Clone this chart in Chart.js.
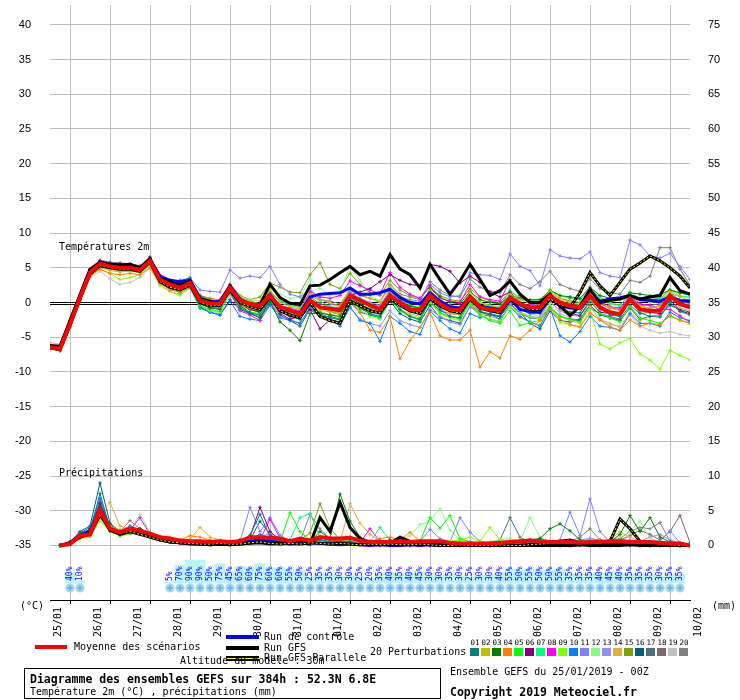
<!DOCTYPE html>
<html lang="fr">
<head>
<meta charset="UTF-8">
<title>Diagramme des ensembles GEFS</title>
<script src="https://cdn.jsdelivr.net/npm/chart.js"></script>
<style>
  body { margin: 0; background: #fff; }
  #wrap { position: relative; width: 740px; height: 700px; font-family: 'DejaVu Sans Mono', monospace; color: #000; }
  #wrap canvas { position: absolute; left: 0; top: 0; }
  .t { position: absolute; white-space: nowrap; font-size: 10px; line-height: 10px; }
  .b { font-weight: bold; font-size: 11.5px; line-height: 12px; }
  .sw { position: absolute; }
  #box { position: absolute; left: 24px; top: 668px; width: 415px; height: 29px; border: 1px solid #000; }
</style>
</head>
<body>
<div id="wrap">
  <canvas id="c" width="740" height="700"></canvas>
  <div class="t" style="left:59px;top:242px">Températures 2m</div>
  <div class="t" style="left:59px;top:468px">Précipitations</div>
  <div class="t" style="left:20px;top:601px">(°C)</div>
  <div class="t" style="left:712px;top:601px">(mm)</div>

  <div class="sw" style="left:35px;top:645px;width:32px;height:4px;background:#ff0000"></div>
  <div class="t" style="left:74px;top:642px">Moyenne des scénarios</div>
  <div class="sw" style="left:226px;top:635px;width:33px;height:4px;background:#0000ff"></div>
  <div class="t" style="left:264px;top:632px">Run de contrôle</div>
  <div class="sw" style="left:226px;top:646px;width:33px;height:4px;background:#000"></div>
  <div class="t" style="left:264px;top:643px">Run GFS</div>
  <div class="sw" style="left:226px;top:656px;width:33px;height:1px;border-top:2px solid #000;border-bottom:2px solid #000;background:#ffff00"></div>
  <div class="t" style="left:264px;top:653px">Run GFS Parallele</div>
  <div class="t" style="left:180px;top:656px">Altitude du modèle : 30m</div>
  <div class="t" style="left:370px;top:647px">20 Perturbations</div>
  <div id="pertLegend"></div>

  <div id="box"></div>
  <div class="t b" style="left:30px;top:673px">Diagramme des ensembles GEFS sur 384h : 52.3N 6.8E</div>
  <div class="t" style="left:30px;top:687px">Température 2m (°C) , précipitations (mm)</div>
  <div class="t" style="left:450px;top:667px">Ensemble GEFS du 25/01/2019 - 00Z</div>
  <div class="t b" style="left:450px;top:686px">Copyright 2019 Meteociel.fr</div>
</div>

<script>
// Time axis: 6-hour steps from 25/01 00Z, 65 values (0..384h)
const stepHours = 6;
const dateLabels = ['25/01','26/01','27/01','28/01','29/01','30/01','31/01','01/02','02/02',
                    '03/02','04/02','05/02','06/02','07/02','08/02','09/02','10/02'];
const tempTicks = [-35,-30,-25,-20,-15,-10,-5,0,5,10,15,20,25,30,35,40];
const precipTicks = [0,5,10,15,20,25,30,35,40,45,50,55,60,65,70,75];

const pertNames = ['01','02','03','04','05','06','07','08','09','10','11','12','13','14','15','16','17','18','19','20'];
const pertColors = ['#008080','#c0c000','#008000','#ff8000','#00ff00','#800080','#00ff80','#ff00ff','#80ff00','#0080ff',
                    '#8080ff','#80ff80','#8f8fff','#e0b040','#80a000','#006080','#507078','#806870','#c0c0c0','#808080'];

// Temperature 2m (°C), one row = one day (00Z, 06Z, 12Z, 18Z)
const tMean = [-6.4,-6.7,-3.1,0.7, 4.3,5.6,5.2,5.0, 5.0,4.7,6.0,3.3, 2.6,2.1,2.8,0.3,
  -0.1,-0.2,2.1,0.3, -0.2,-0.5,1.0,-0.7, -1.1,-1.7,0.3,-0.7, -0.9,-1.1,1.0,0.3,
  -0.4,-1.0,1.0,0.0, -1.0,-1.1,1.0,-0.2, -1.0,-1.1,0.8,-0.7, -1.0,-1.2,0.7,-0.2,
  -0.7,-0.7,1.0,0.0, -0.5,-0.7,1.0,-0.7, -1.4,-1.7,0.5,-1.0, -1.2,-1.2,1.0,-0.2, -0.7];
const tCtrl = [-6.3,-6.5,-2.8,1.0, 4.6,5.8,5.4,5.2, 5.3,4.9,6.2,3.8, 3.2,3.0,3.2,0.5,
  0.0,0.2,2.4,0.5, -0.3,-0.6,1.2,-0.8, -1.2,-1.5,0.8,1.2, 1.3,1.4,2.1,1.2,
  1.2,1.4,1.9,0.7, 0.0,-0.2,1.4,0.2, -0.6,-0.8,0.9,-0.5, -0.8,-1.0,0.5,-1.0,
  -1.3,-1.4,0.6,-0.5, -0.8,-0.9,0.8,0.2, 0.5,0.7,1.0,0.4, 0.3,0.2,0.8,0.3, 0.2];
const tGfs = [-6.2,-6.3,-2.6,1.1, 4.8,5.8,5.5,5.4, 5.5,5.0,6.3,3.5, 3.0,2.5,3.1,0.5,
  0.2,-0.1,2.3,0.2, -0.5,-0.3,2.6,0.7, -0.1,-0.3,2.4,2.5, 3.3,4.3,5.2,4.0,
  4.5,3.8,6.9,4.8, 4.0,2.1,5.5,3.3, 1.2,3.1,5.5,3.3, 1.0,1.7,3.1,1.2,
  0.0,0.0,1.2,-0.5, -1.9,-0.5,1.9,0.0, 0.3,0.5,1.0,0.5, 0.8,1.0,3.6,1.7, 1.2];
const tPar = [-6.5,-6.8,-3.3,0.5, 4.1,5.3,5.0,4.8, 4.8,4.5,5.8,3.0, 2.2,1.8,2.5,0.0,
  -0.5,-0.4,1.8,0.0, -0.6,-1.0,0.8,-1.2, -1.8,-2.2,0.0,-2.0, -2.6,-3.0,0.2,-0.5,
  -1.2,-1.5,0.5,-0.4, -1.2,-1.6,0.6,-0.5, -1.2,-1.5,0.5,-0.8, -1.2,-1.5,0.4,-0.3,
  -1.0,-1.0,0.5,-0.3, -0.7,1.4,4.3,2.4, 1.0,2.9,4.8,5.7, 6.7,6.0,5.0,3.8, 2.1];

const t01 = [-6.3,-6.6,-2.9,0.9, 4.5,5.9,5.6,5.4, 5.3,5.0,6.3,3.8, 3.0,3.2,3.5,1.0,
  0.2,-0.5,1.6,-0.8, -1.5,-1.8,0.5,-1.3, -2.0,-2.4,-0.4,-1.6, -2.2,-2.5,0.5,-0.8,
  -1.6,-2.0,0.6,-1.0, -2.0,-2.4,0.5,-1.0, -2.0,-2.2,0.4,-1.2, -1.8,-2.0,0.3,-1.0,
  -1.6,-1.6,1.0,-0.6, -1.4,-1.5,0.8,-0.8, -1.8,-2.0,0.2,-1.5, -2.0,-2.1,0.0,-1.3, -1.8];
const t02 = [-6.5,-6.8,-3.4,0.4, 4.0,5.2,4.8,4.5, 4.6,4.4,5.5,3.0, 2.5,2.0,2.9,0.6,
  0.3,0.0,2.5,0.8, 0.2,-0.2,1.8,0.0, -0.6,-1.0,1.2,0.4, 0.0,-0.5,2.0,1.2,
  0.6,0.0,2.4,1.0, 0.2,-0.3,1.8,0.4, -0.4,-0.8,1.5,0.0, -0.5,-0.8,1.2,0.4,
  0.0,0.1,1.8,0.6, 0.0,-0.3,1.5,0.0, -0.8,-1.2,1.0,-0.5, -0.8,-0.6,1.6,0.8, 0.2];
const t03 = [-6.2,-6.5,-2.7,1.0, 4.6,5.9,5.5,5.3, 5.2,4.9,6.1,3.4, 2.9,2.6,2.6,-0.2,
  -0.8,-1.0,2.6,-0.4, -1.5,-2.2,0.2,-2.8, -4.0,-5.5,-1.6,-1.5, -1.8,-2.0,0.8,-0.2,
  -1.0,-1.5,1.2,0.2, -0.5,-0.8,2.0,0.8, 0.0,-0.2,1.6,0.4, 0.0,-0.2,1.0,0.6,
  0.4,0.4,1.8,1.0, 0.8,0.6,2.2,1.0, 0.6,0.5,1.4,1.2, 1.0,1.1,1.8,1.4, 1.2];
const t04 = [-6.6,-7.0,-3.6,0.2, 3.8,4.8,4.2,4.0, 4.2,4.0,5.0,2.8, 1.8,1.5,2.2,0.0,
  -0.4,-0.6,1.8,-0.3, -0.8,-1.0,0.6,-1.0, -1.5,-2.0,0.0,-1.5, -1.8,-1.4,0.4,-1.4,
  -4.0,-4.3,-2.1,-8.1, -5.5,-3.6,-1.4,-4.8, -5.4,-5.4,-4.0,-9.3, -7.1,-8.0,-4.8,-5.3,
  -4.0,-2.6,-1.0,-2.4, -3.2,-3.5,-1.5,-2.5, -3.5,-4.0,-2.5,-3.4, -3.0,-3.2,-1.8,-2.6, -3.0];
const t05 = [-6.4,-6.6,-3.0,0.8, 4.4,5.4,4.9,4.6, 4.8,4.6,5.7,3.0, 2.4,1.4,2.2,-0.5,
  -1.0,-1.3,1.5,-0.6, -1.4,-1.6,0.3,-1.3, -1.8,-2.4,0.5,-0.6, -1.2,-1.8,0.6,-0.8,
  -1.6,-2.2,0.4,-1.2, -2.0,-2.6,0.2,-1.5, -2.0,-2.4,0.0,-1.8, -2.6,-3.0,-1.2,-3.3,
  -2.9,-2.6,-0.8,-2.0, -2.4,-2.8,0.4,-1.6, -2.2,-2.8,-0.6,-2.2, -2.6,-3.0,-2.0,-2.5, -3.0];
const t06 = [-6.3,-6.6,-2.9,0.9, 4.7,6.0,5.7,5.6, 5.4,5.2,6.4,3.6, 3.1,2.8,3.0,0.8,
  0.2,-0.4,2.0,-0.2, -1.0,-1.4,0.6,-1.6, -2.4,-2.0,-1.0,-3.8, -2.5,-2.8,1.0,1.5,
  2.0,3.0,4.0,3.2, 2.6,2.4,5.5,5.2, 4.5,2.8,3.8,2.9, 1.5,0.8,1.5,0.0,
  -0.6,-0.8,1.2,-0.8, -1.5,-1.9,0.2,-1.4, -1.6,-1.8,0.6,-1.0, -1.4,-1.6,0.4,-1.2, -1.6];
const t07 = [-6.4,-6.8,-3.2,0.6, 4.2,5.5,5.0,4.9, 5.0,4.8,5.9,3.0, 2.2,1.8,2.5,0.0,
  -0.5,-0.5,1.5,0.0, -0.5,-0.6,1.4,0.2, -0.4,-0.8,1.0,0.2, -0.6,-1.0,0.8,0.0,
  -0.6,-1.0,1.2,0.4, -0.4,-0.8,1.4,0.2, -0.8,-1.0,1.0,0.0, -0.4,-0.6,1.8,0.6,
  0.2,0.4,1.6,1.0, 0.6,0.4,1.9,0.8, 0.0,-0.4,1.2,0.5, 0.4,0.6,1.2,0.9, 0.8];
const t08 = [-6.6,-6.9,-3.3,0.5, 4.2,5.4,5.0,4.8, 5.0,4.6,5.8,3.1, 2.4,2.0,2.6,0.2,
  -0.2,-0.8,1.4,-1.2, -1.8,-2.6,0.8,-0.4, -0.8,-1.2,1.6,0.8, 0.6,1.0,3.1,2.4,
  1.8,1.2,4.3,2.2, 1.2,0.6,2.4,0.6, 0.2,0.0,2.6,0.8, 0.4,0.2,3.3,1.0,
  -0.2,-0.5,1.2,0.0, -0.4,-0.6,1.8,0.2, -0.6,-0.8,1.0,-0.2, -0.4,-1.0,-1.0,-1.9, -2.9];
const t09 = [-6.5,-6.9,-3.4,0.3, 3.9,4.8,4.2,3.3, 3.6,4.0,5.4,2.6, 1.6,1.0,2.2,-0.4,
  -1.2,-1.4,1.6,-0.5, -1.0,-1.5,0.8,-1.0, -1.6,-2.0,0.4,-1.2, -1.8,-2.2,0.2,-1.0,
  -2.0,-2.4,0.6,-1.0, -1.8,-2.2,0.0,-1.6, -2.2,-2.6,-0.2,-1.8, -2.4,-2.6,-0.6,-1.6,
  -2.0,-2.4,-0.2,-2.9, -3.2,-3.6,-1.0,-6.0, -6.7,-5.8,-5.2,-7.4, -8.3,-9.6,-6.9,-7.6, -8.3];
const t10 = [-6.3,-6.6,-3.0,0.8, 4.4,5.7,5.3,5.1, 5.1,4.8,6.0,3.2, 2.6,2.3,2.4,-0.8,
  -1.4,-1.8,0.2,-2.0, -2.4,-2.6,-0.4,-2.2, -2.6,-3.0,-0.8,-1.8, -2.4,-3.4,-0.6,-2.6,
  -3.0,-5.6,-2.0,-3.0, -4.2,-4.6,-1.2,-2.6, -3.8,-4.4,-1.6,-2.2, -1.7,-2.4,-0.6,-2.0,
  -2.8,-3.4,-0.8,-4.8, -5.7,-4.2,-2.0,-3.4, -3.6,-4.0,-1.6,-3.0, -3.0,-3.4,-1.4,-2.2, -2.6];
const t11 = [-6.2,-6.5,-2.8,1.0, 4.7,6.0,5.6,5.5, 5.5,5.2,6.4,3.7, 3.2,3.0,3.6,1.8,
  1.6,1.5,4.7,3.5, 3.8,3.6,5.2,2.6, 1.2,0.8,2.0,0.5, -0.2,-0.6,1.6,0.6,
  0.0,-0.4,1.8,0.8, 0.4,0.2,2.6,1.4, 0.8,1.0,4.3,4.0, 3.9,3.3,7.0,5.2,
  4.6,2.4,7.6,6.7, 6.4,6.3,7.3,4.3, 3.8,3.6,9.0,8.3, 6.7,6.4,7.1,5.2, 3.3];
const t12 = [-6.4,-6.7,-3.1,0.7, 4.3,5.5,5.1,5.0, 5.1,4.8,6.0,3.4, 2.8,2.4,3.0,0.6,
  0.0,0.2,2.6,0.8, 0.4,0.2,2.4,1.2, 0.6,0.8,3.4,2.0, 1.2,1.6,5.2,3.2,
  1.0,0.2,2.0,0.6, -0.4,-0.6,1.6,0.4, -0.6,-0.8,1.2,0.0, -0.6,-0.8,1.5,0.6,
  -0.2,-0.4,1.6,0.4, 0.0,-0.2,1.4,0.2, -0.2,-0.6,1.6,0.6, 0.0,0.2,1.8,1.0, 0.6];
const t13 = [-6.5,-6.8,-3.2,0.6, 4.2,5.5,5.0,4.9, 5.0,4.7,5.9,3.2, 2.5,2.0,2.5,-0.2,
  -0.6,-0.8,1.4,-0.6, -1.0,-1.4,0.4,-2.0, -2.4,-3.0,-0.8,-2.0, -2.6,-3.2,-0.8,-2.4,
  -3.0,-3.4,-1.2,-2.6, -3.2,-3.6,-1.0,-2.0, -2.8,-3.2,-0.6,-1.8, -2.4,-2.8,-0.2,-1.4,
  -2.0,-2.2,0.2,-1.2, -1.8,-2.0,0.4,-1.0, -1.6,-2.0,0.8,-0.6, -0.8,-0.4,1.6,0.2, -0.2];
const t14 = [-6.6,-7.0,-3.5,0.3, 3.9,5.0,4.6,4.4, 4.5,4.3,5.4,2.9, 2.0,1.6,2.4,0.0,
  -0.4,-0.6,1.8,0.0, -0.6,-1.0,0.9,-1.2, -1.6,-2.0,0.2,-1.0, -1.4,-1.6,0.9,-0.4,
  -0.8,-1.4,0.8,-0.6, -1.4,-1.6,0.6,-1.0, -1.6,-1.8,0.2,-1.6, -2.0,-2.4,-0.6,-2.2,
  -2.8,-3.2,-0.8,-2.0, -2.6,-3.0,-0.6,-2.4, -3.0,-3.6,-1.4,-2.6, -2.0,-1.8,0.2,-0.8, -1.2];
const t15 = [-6.3,-6.6,-2.9,0.9, 4.6,5.8,5.4,5.2, 5.3,5.0,6.2,3.6, 2.9,2.6,3.2,1.0,
  0.6,0.4,2.6,1.0, 0.4,0.8,2.8,2.2, 1.5,1.4,4.0,5.7, 2.6,2.0,4.2,2.6,
  1.4,1.0,3.2,1.8, 1.0,0.6,2.2,1.0, 0.4,0.2,2.0,0.8, 0.2,0.0,1.6,0.6,
  0.0,-0.2,1.4,0.6, 0.2,0.0,1.6,0.4, -0.2,-0.4,1.2,0.6, 0.4,0.6,1.8,1.4, 1.0];
const t16 = [-6.4,-6.7,-3.0,0.8, 4.3,5.6,5.2,5.0, 5.1,4.8,6.1,3.3, 2.6,2.2,2.6,-0.6,
  -1.4,-1.8,0.4,-1.0, -1.6,-2.2,-0.2,-1.8, -2.6,-3.4,-1.0,-2.0, -2.0,-2.4,0.0,-1.4,
  -1.8,-2.2,0.2,-1.6, -2.4,-2.8,-0.4,-2.2, -2.6,-3.0,-0.6,-1.4, -1.6,-2.0,-0.2,-1.4,
  -3.0,-3.8,-1.2,-2.6, -2.8,-2.4,-0.4,-1.8, -2.2,-2.6,-0.8,-2.4, -2.0,-1.8,-0.4,-1.0, -1.4];
const t17 = [-6.5,-6.7,-3.1,0.7, 4.4,5.7,5.3,5.1, 5.0,4.7,6.0,3.3, 2.5,2.0,2.6,0.0,
  -0.6,-1.0,1.4,-0.6, -1.0,-1.2,0.8,-0.8, -1.4,-1.6,0.6,-0.6, -1.0,-1.4,0.6,-0.4,
  -0.8,-1.2,0.6,-0.6, -1.2,-1.4,0.2,-1.2, -1.6,-1.8,0.0,-1.4, -1.8,-2.0,-0.2,-1.6,
  -2.2,-2.4,-0.6,-2.0, -2.4,-2.6,-0.8,-1.6, -2.0,-2.4,-0.4,-1.6, -1.4,-1.2,0.4,-0.4, -0.8];
const t18 = [-6.3,-6.5,-2.8,1.0, 4.6,5.9,5.5,5.3, 5.2,4.9,6.2,3.5, 2.8,2.4,2.9,0.4,
  0.0,-0.2,2.0,0.0, -0.4,-0.8,1.2,-0.4, -1.0,-1.4,0.8,-0.2, -0.6,-0.8,1.4,0.4,
  -0.2,-0.6,1.6,0.2, -0.6,-0.8,1.2,0.0, -0.8,-1.0,1.0,-0.4, -1.0,-1.2,1.0,0.0,
  -0.6,-0.4,1.2,0.2, -0.2,-0.4,1.0,-0.2, -0.8,-1.0,0.6,-0.4, -0.4,-0.2,1.0,0.0, -0.4];
const t19 = [-5.8,-6.0,-2.6,0.6, 3.6,4.5,3.4,2.6, 2.9,3.6,5.0,2.4, 1.6,1.2,2.0,-0.8,
  -1.4,-1.6,1.0,-0.8, -1.6,-2.0,0.4,-1.0, -1.4,-1.8,0.6,-0.8, -1.2,-1.6,0.8,-0.6,
  -1.4,-1.8,0.4,-1.0, -1.6,-2.0,0.4,-0.8, -1.2,-1.6,0.6,-0.6, -1.0,-1.4,0.8,-0.8,
  -1.6,-2.0,0.2,-1.6, -2.2,-2.6,-0.4,-2.6, -3.2,-3.4,-1.8,-3.4, -4.0,-4.4,-4.2,-4.6, -4.8];
const t20 = [-6.2,-6.4,-2.7,1.1, 4.8,6.1,5.8,5.7, 5.6,5.3,6.6,3.8, 3.2,2.9,3.3,1.0,
  0.4,0.2,2.4,0.6, 0.2,-0.2,1.6,0.2, -0.2,-0.6,1.4,0.4, 0.2,-0.2,1.8,1.0,
  0.6,0.2,2.6,1.2, 0.8,0.4,3.0,1.8, 1.0,0.8,3.4,2.2, 1.6,1.4,4.0,2.6,
  2.0,3.0,4.5,2.6, 2.0,1.6,3.4,2.0, 1.4,1.2,3.2,2.9, 3.8,7.9,7.9,4.8, 2.5];

// Precipitation (mm per 6h)
const pMean = [null,0,0.2,1.4, 1.6,5.0,2.4,1.9, 2.4,2.1,1.7,1.2, 1.0,0.7,0.6,0.6,
  0.5,0.6,0.5,0.6, 1.2,1.2,1.1,1.0, 0.6,1.0,0.7,1.2, 1.0,1.0,1.1,0.7,
  0.5,0.5,0.5,0.6, 0.5,0.6,0.6,0.6, 0.4,0.3,0.3,0.3, 0.3,0.4,0.5,0.6,
  0.7,0.6,0.5,0.5, 0.5,0.4,0.5,0.5, 0.6,0.6,0.5,0.5, 0.5,0.4,0.3,0.3, 0];
const pCtrl = [null,0,0.4,1.5, 2.0,5.0,2.4,1.8, 2.2,2.0,1.4,1.0, 0.6,0.4,0.3,0.2,
  0.1,0.2,0.1,0.3, 0.6,0.8,0.6,0.4, 0.2,0.3,0.4,0.3, 0.2,0.1,0.2,0.1,
  0,0.1,0,0, 0.1,0,0.1,0, 0,0,0.1,0, 0,0.1,0,0,
  0.1,0.2,0.1,0, 0,0.1,0.2,0.1, 0.2,0.3,0.2,0.4, 0.2,0.1,0,0, 0];
const pGfs = [null,0,0.3,1.2, 1.8,4.6,2.2,1.6, 2.0,1.8,1.2,0.8, 0.5,0.4,0.2,0.2,
  0.1,0.2,0.1,0.2, 0.3,0.4,0.2,0.3, 0.3,0.4,0.2,4.0, 2.0,6.2,2.6,1.0,
  0.4,0.6,0.3,1.2, 0.6,0.3,0.2,0.1, 0,0,0.1,0, 0,0,0,0,
  0,0,0,0, 0,0.1,0,0, 0,0,0.1,0, 0,0,0,0, 0];
const pPar = [null,0,0.3,1.3, 1.6,4.4,2.4,1.8, 2.0,1.6,1.2,0.8, 0.5,0.4,0.3,0.2,
  0.2,0.3,0.2,0.2, 0.4,0.5,0.3,0.2, 0.3,0.2,0.4,0.3, 0.2,0.3,0.2,0.1,
  0.2,0.1,0.2,0.1, 0.1,0.2,0.1,0, 0,0.1,0,0, 0,0.1,0,0,
  0.1,0.2,0.3,0.6, 0.8,0.4,0.3,0.5, 0.6,3.8,2.4,0.6, 0.4,0.2,0.1,0, 0];

const p01 = [null,0,0.4,1.6, 2.0,7.5,2.4,1.6, 2.2,2.0,1.2,0.8, 0.6,0.4,0.3,0.2,
  0.2,0.3,0.2,0.5, 1.5,4.5,1.2,0.4, 0.2,0.6,0.3,0.8, 0.5,0.4,0.6,0.2,
  0.2,0.3,0.1,0.2, 0.4,0.6,0.3,0.2, 0.1,0,0.2,0.1, 0,0.2,0.3,0.4,
  0.5,0.2,0.1,0, 0,0.1,0.2,0, 0.2,0.1,0.3,0.1, 0,0.1,0,0, 0];
const p02 = [null,0,0.2,1.2, 1.4,4.0,2.8,2.2, 2.5,1.6,1.4,1.0, 0.8,0.5,0.4,0.3,
  0.2,0.4,0.2,0.3, 0.5,0.8,0.6,0.4, 0.3,0.2,0.4,0.6, 0.4,0.3,0.5,0.2,
  0.1,0.2,0.1,0, 0,0.1,0.2,0.1, 0,0.1,0,0, 0.1,0,0.2,0.1,
  0.3,0.2,0.1,0.1, 0,0.2,0.1,0, 0.2,0.3,0.2,0.5, 0.3,0.2,0.1,0, 0];
const p03 = [null,0,0.5,1.8, 2.2,5.6,3.0,1.8, 2.6,2.4,1.6,1.0, 0.6,0.5,0.3,0.4,
  0.2,0.5,0.3,0.4, 0.6,1.0,0.8,0.6, 0.4,0.8,0.5,2.0, 1.0,7.4,3.5,1.2,
  0.6,0.4,0.8,0.5, 0.3,0.2,0.4,0.3, 0.2,0.1,0.2,0.1, 0.1,0.2,0.4,0.6,
  0.8,1.0,2.4,3.1, 2.1,0.8,0.4,0.2, 0.5,1.6,4.3,2.0, 4.0,1.2,0.5,0.2, 0];
const p04 = [null,0,0.2,1.0, 1.5,4.2,2.2,2.0, 2.4,2.2,1.8,1.2, 1.0,0.8,1.4,1.2,
  0.8,0.4,0.3,0.2, 0.4,0.6,0.3,0.2, 0.3,0.4,0.6,0.5, 0.6,0.8,0.5,0.3,
  0.6,1.0,1.2,0.8, 1.9,0.6,0.3,0.2, 0.1,0.2,0.1,0, 0,0.1,0.2,0.1,
  0.2,0.1,0,0.1, 0.2,0.3,0.5,0.8, 0.4,0.3,0.5,0.6, 0.2,0.1,0.1,0, 0];
const p05 = [null,0,0.3,1.5, 1.8,5.0,2.6,1.4, 1.8,1.6,1.2,0.8, 0.5,0.4,0.3,0.2,
  0.3,0.2,0.1,0.2, 0.4,0.6,0.8,0.5, 4.7,2.0,0.8,0.5, 0.4,0.3,0.5,0.2,
  0.2,0.1,0.3,0.2, 0.4,0.6,4.0,2.5, 4.3,1.0,0.5,0.2, 0.1,0,0.2,0.1,
  0.2,0.1,0.3,0.2, 0.1,0.2,0.1,0, 0,0.1,0.2,0.1, 0,0.1,0,0, 0];
const p06 = [null,0,0.4,1.4, 2.4,6.0,2.8,2.2, 2.6,2.4,1.8,1.2, 0.8,0.6,0.5,0.4,
  0.3,0.4,0.5,0.8, 1.2,5.5,2.0,0.8, 0.4,0.3,0.5,0.4, 0.6,0.5,0.4,0.3,
  0.3,0.2,0.4,0.2, 0.1,0.2,0.1,0, 0,0.1,0.2,0, 0.1,0.2,0.1,0.2,
  0.3,0.2,0.1,0, 0,0.1,0.2,0.1, 0.1,0.2,0.1,0, 0,0,0.1,0, 0];
const p07 = [null,0,0.3,1.3, 1.6,4.5,2.0,1.6, 1.8,1.8,1.2,1.0, 0.6,0.5,0.6,0.4,
  0.4,0.3,0.5,0.6, 0.8,1.0,0.8,0.7, 0.8,4.0,4.6,1.2, 0.6,0.8,0.6,0.4,
  0.5,2.6,0.8,0.5, 0.3,0.4,0.6,0.4, 0.2,0.3,0.1,0.2, 0.1,0.2,0.3,0.2,
  0.5,0.4,0.3,0.2, 0.1,0.2,0.3,0.1, 0.2,0.1,0.3,0.2, 0.1,0,0.1,0, 0];
const p08 = [null,0,0.3,1.4, 1.8,4.8,2.4,1.8, 2.2,4.0,1.6,1.0, 0.6,0.5,0.4,0.3,
  0.2,0.3,0.4,0.3, 0.6,0.8,3.8,1.0, 0.5,0.6,0.4,0.6, 0.4,0.6,0.5,0.4,
  2.4,0.6,0.3,0.2, 0.3,0.4,0.6,0.5, 0.2,0.1,0.2,0.1, 0,0.1,0.2,0.1,
  0.2,0.3,0.1,0.1, 0.1,0,0.2,0.1, 0,0.2,0.1,0.2, 0.1,0,0,0, 0];
const p09 = [null,0,0.2,1.0, 1.2,3.5,2.0,1.4, 1.6,1.8,1.4,1.0, 0.8,0.6,0.4,0.3,
  0.2,0.3,0.2,0.4, 0.5,0.6,0.4,0.3, 0.3,0.4,0.6,0.4, 0.4,0.3,0.5,0.6,
  0.4,0.2,0.3,0.2, 0.3,0.2,0.3,0.4, 0.6,0.8,1.2,0.6, 2.6,0.8,0.4,0.2,
  0.1,0.2,0.1,0, 0.1,0.2,0.3,0.1, 0.2,0.1,0.3,0.2, 0.3,0.2,0.1,0, 0];
const p10 = [null,0,0.5,1.8, 2.6,6.8,2.6,2.0, 2.8,2.2,1.6,1.2, 1.0,0.6,0.4,0.3,
  0.2,0.3,0.2,0.2, 0.8,1.6,1.0,0.8, 0.4,0.5,0.6,0.8, 0.6,0.4,0.3,0.2,
  0.2,0.1,0.2,0.1, 0,0.1,0,0.1, 0.2,0.1,0,0, 0,0,0.1,0,
  0.1,0.2,0.1,0, 0.2,0.1,0,0.1, 0,0.1,0,0, 0,0,0.1,0, 0];
const p11 = [null,0,0.4,1.6, 2.2,5.8,2.6,1.8, 2.4,2.0,1.4,1.0, 0.6,0.4,0.3,0.2,
  0.3,0.2,0.4,0.6, 5.5,2.0,4.0,1.5, 0.6,0.5,0.4,0.6, 0.3,0.2,0.4,0.3,
  0.2,0.3,0.2,0.1, 0.3,0.6,2.3,1.0, 0.5,4.0,1.9,0.6, 0.3,0.2,0.1,0.2,
  0.5,1.0,0.6,0.8, 4.8,1.4,6.7,2.0, 0.5,0.3,0.4,0.2, 0.3,0.6,2.1,0.4, 0];
const p12 = [null,0,0.3,1.2, 1.5,4.2,2.2,1.6, 2.0,4.5,1.8,1.2, 0.8,0.6,0.4,0.3,
  0.4,0.3,0.5,0.4, 0.5,0.6,0.8,0.6, 0.4,0.5,0.3,0.4, 0.5,0.4,0.3,0.5,
  0.4,0.3,0.6,0.8, 1.4,3.0,3.5,5.3, 2.2,0.8,0.5,0.4, 0.6,0.8,1.0,0.6,
  4.0,1.2,0.5,0.3, 0.3,0.4,0.2,0.3, 0.6,1.2,2.0,3.5, 1.0,0.5,0.3,0.1, 0];
const p13 = [null,0,0.3,1.3, 1.6,5.2,2.4,1.8, 2.0,1.8,1.4,1.0, 0.6,0.5,0.4,0.3,
  0.4,0.3,0.6,0.8, 1.0,1.2,1.8,1.0, 0.6,0.5,0.8,0.6, 0.5,0.4,0.6,0.4,
  0.3,0.6,0.4,0.3, 0.2,0.3,0.5,0.4, 0.3,0.2,0.3,0.2, 0.1,0.2,0.3,0.2,
  0.4,0.6,0.5,0.4, 0.6,0.8,1.0,0.5, 0.4,0.3,0.8,0.6, 1.2,1.6,0.8,0.3, 0];
const p14 = [null,0,0.2,1.0, 1.6,4.6,6.2,2.8, 2.4,1.6,1.4,1.2, 1.0,0.8,0.9,2.6,
  1.2,0.8,0.5,0.6, 0.8,0.6,0.5,0.4, 0.6,0.5,0.4,0.3, 0.5,0.4,6.0,3.2,
  1.6,0.6,0.4,0.3, 0.2,0.3,0.2,0.1, 0.1,0.2,0.1,0, 0,0.1,0,0.1,
  0.2,0.3,0.2,0.1, 0.3,0.4,0.2,0.1, 0.8,2.0,1.2,0.6, 0.3,0.2,0.1,0, 0];
const p15 = [null,0,0.4,1.5, 2.0,5.4,2.6,2.0, 2.2,2.0,1.6,1.2, 0.8,0.6,0.5,0.4,
  0.3,0.4,0.3,0.5, 0.6,0.8,0.6,0.5, 0.6,0.8,1.8,6.0, 2.5,0.8,0.6,0.4,
  0.2,0.3,0.2,0.1, 0.2,0.1,0.2,0.1, 0,0.1,0.2,0.1, 0.1,0.2,0.1,0.2,
  0.3,0.2,0.4,0.3, 0.2,0.3,0.5,0.6, 0.8,1.0,0.6,0.4, 0.2,0.3,0.1,0, 0];
const p16 = [null,0,0.5,2.0, 2.8,9.0,3.2,2.0, 2.6,2.2,1.6,1.0, 0.6,0.4,0.3,0.2,
  0.3,0.2,0.4,0.5, 0.8,3.5,1.6,0.6, 0.4,0.3,0.5,0.4, 0.3,0.4,0.2,0.3,
  0.2,0.3,0.2,0.1, 0.2,0.1,0.2,0.3, 0.2,0.3,0.4,0.2, 0.3,0.4,0.6,0.3,
  0.4,0.3,0.2,0.1, 0.2,0.1,0.2,0, 0.1,0,0.1,0, 0,0.1,0,0, 0];
const p17 = [null,0,0.4,1.6, 2.2,6.2,2.4,1.8, 2.4,2.0,1.6,1.2, 0.8,0.6,0.4,0.3,
  0.2,0.3,0.4,0.3, 0.5,0.6,0.8,0.5, 0.4,0.6,0.5,0.4, 0.3,0.5,0.4,0.3,
  0.2,0.3,0.2,0.2, 0.3,0.2,0.4,0.3, 0.2,0.1,0.3,0.2, 0.4,0.8,4.0,1.2,
  0.4,0.3,0.2,0.2, 0.1,0.2,0.3,0.2, 0.2,0.3,0.2,0.1, 0.1,0.2,0.1,0, 0];
const p18 = [null,0,0.3,1.4, 1.8,4.4,2.2,1.6, 2.2,2.0,1.4,1.0, 0.6,0.5,0.3,0.2,
  0.2,0.3,0.2,0.4, 0.5,0.6,0.4,0.3, 0.4,0.5,0.3,0.4, 0.3,0.2,0.3,0.2,
  0.2,0.1,0.2,0.1, 0.1,0.2,0.1,0, 0.1,0,0.1,0.2, 0.3,0.2,0.4,0.6,
  0.8,0.5,0.3,0.2, 0.3,0.4,1.0,0.8, 0.6,0.8,1.4,2.2, 1.6,0.8,2.0,4.3, 0.4];
const p19 = [null,0,0.2,1.1, 1.4,3.8,2.0,1.6, 1.8,1.6,1.2,0.8, 0.5,0.4,0.3,0.2,
  0.1,0.2,0.1,0.2, 0.3,0.4,0.3,0.2, 0.3,0.4,0.2,0.3, 0.2,0.3,0.2,0.1,
  0.1,0.2,0.1,0, 0.1,0,0.1,0.2, 0.1,0,0,0.1, 0,0.1,0.2,0.1,
  0.2,0.1,0,0.1, 0.2,0.1,0,0, 0.1,0.2,0.3,0.2, 0.2,0.1,0.2,0.1, 0];
const p20 = [null,0,0.5,1.6, 2.4,6.4,2.8,2.0, 3.6,2.4,1.8,1.2, 0.8,0.6,0.5,0.4,
  0.3,0.4,0.5,0.6, 0.8,0.6,0.5,0.6, 0.8,0.6,4.5,2.4, 1.0,0.8,1.2,0.6,
  0.4,0.5,0.3,0.4, 0.3,0.2,0.4,0.3, 0.2,0.3,0.2,0.1, 0.2,0.4,0.3,0.6,
  0.8,0.6,0.4,0.3, 0.6,1.2,2.4,0.8, 0.6,1.0,2.0,2.6, 2.4,3.3,0.6,0.4, 0];

// Snow risk row (%), per 6h step
const snowPct = [null,null,40,10, null,null,null,null, null,null,null,null, 5,70,90,90,
  50,75,45,65, 60,75,60,60, 55,50,25,35, 35,30,30,25,
  20,35,40,35, 40,45,30,30, 35,30,25,30, 30,40,55,50,
  55,50,50,55, 35,35,35,40, 45,40,35,35, 35,30,35,35, null];

const tempMembers = [t01,t02,t03,t04,t05,t06,t07,t08,t09,t10,t11,t12,t13,t14,t15,t16,t17,t18,t19,t20];
const precipMembers = [p01,p02,p03,p04,p05,p06,p07,p08,p09,p10,p11,p12,p13,p14,p15,p16,p17,p18,p19,p20];

// legend swatches for the 20 perturbations
const pl = document.getElementById('pertLegend');
pertNames.forEach((n, i) => {
  const lab = document.createElement('div');
  lab.className = 't';
  lab.style.cssText = `left:${470 + i * 11}px;top:639px;font-size:7.5px;line-height:8px;width:10px;text-align:center`;
  lab.textContent = n;
  pl.appendChild(lab);
  const sw = document.createElement('div');
  sw.className = 'sw';
  sw.style.cssText = `left:${470 + i * 11}px;top:648px;width:9px;height:8px;background:${pertColors[i]}`;
  pl.appendChild(sw);
});

const pts = arr => arr.map((v, i) => ({ x: i * stepHours, y: v }));

function member(arr, color, axis) {
  return { data: pts(arr), yAxisID: axis, borderColor: color, backgroundColor: color,
           borderWidth: 1, pointStyle: 'cross', pointRadius: 1.8, pointBorderWidth: 1, order: 10 };
}
function thick(arr, color, axis, width, order, dash) {
  return { data: pts(arr), yAxisID: axis, borderColor: color, borderWidth: width,
           borderDash: dash || [], pointRadius: 0, order: order };
}

const datasets = [];
tempMembers.forEach((a, i) => datasets.push(member(a, pertColors[i], 'y')));
precipMembers.forEach((a, i) => datasets.push(member(a, pertColors[i], 'y2')));
[['y', tCtrl, tGfs, tPar, tMean], ['y2', pCtrl, pGfs, pPar, pMean]].forEach(([ax, c, g, p, m]) => {
  datasets.push(thick(c, '#0000ff', ax, 3, 4));
  datasets.push(thick(g, '#000000', ax, 3, 3));
  datasets.push(thick(p, '#000000', ax, 3, 2));
  datasets.push(thick(p, '#ffff00', ax, 1, 1.5, [2, 2]));
  datasets.push(thick(m, '#ff0000', ax, 4, 0));
});
// snow-risk bars on the hidden percentage axis
datasets.push({ type: 'bar', data: pts(snowPct), yAxisID: 'yp', backgroundColor: '#b8f6fc',
                borderWidth: 0, barPercentage: 1, categoryPercentage: 1, grouped: false, order: 20 });

const extras = {
  id: 'extras',
  beforeDatasetsDraw(chart) {
    const { ctx, chartArea: a, scales: { y } } = chart;
    ctx.save();
    // 0 °C double line
    const py = Math.round(y.getPixelForValue(0));
    ctx.strokeStyle = '#000';
    ctx.lineWidth = 1;
    [py - 0.5, py + 1.5].forEach(v => {
      ctx.beginPath(); ctx.moveTo(a.left, v); ctx.lineTo(a.right, v); ctx.stroke();
    });
    ctx.restore();
  },
  afterDatasetsDraw(chart) {
    const { ctx, scales: { x } } = chart;
    ctx.save();
    snowPct.forEach((p, i) => {
      if (p == null) return;
      const px = x.getPixelForValue(i * stepHours);
      // snowflake strip
      ctx.fillStyle = '#a6d8f2';
      ctx.beginPath(); ctx.arc(px, 588, 4.6, 0, Math.PI * 2); ctx.fill();
      ctx.strokeStyle = '#4ea4de';
      ctx.lineWidth = 1;
      ctx.beginPath();
      ctx.moveTo(px - 3, 588); ctx.lineTo(px + 3, 588);
      ctx.moveTo(px, 585); ctx.lineTo(px, 591);
      ctx.stroke();
      // probability label
      ctx.save();
      ctx.translate(px, 581);
      ctx.rotate(-Math.PI / 2);
      ctx.fillStyle = '#0000ff';
      ctx.font = '8px "DejaVu Sans Mono"';
      ctx.textAlign = 'left';
      ctx.textBaseline = 'middle';
      ctx.fillText(p + '%', 0, 0);
      ctx.restore();
    });
    ctx.restore();
  }
};

const tickFont = { family: 'Liberation Sans', size: 11 };

new Chart(document.getElementById('c'), {
  type: 'line',
  data: { datasets },
  plugins: [extras],
  options: {
    responsive: false,
    animation: false,
    devicePixelRatio: 1,
    events: [],
    layout: { padding: 0 },
    elements: { line: { tension: 0 } },
    plugins: { legend: { display: false }, tooltip: { enabled: false } },
    scales: {
      x: {
        type: 'linear', min: 0, max: 384, offset: false,
        afterBuildTicks: s => { s.ticks = dateLabels.map((_, i) => ({ value: i * 24 })); },
        ticks: {
          callback: v => dateLabels[Math.round(v / 24)],
          autoSkip: false, minRotation: 90, maxRotation: 90,
          font: { family: 'DejaVu Sans Mono', size: 10 }, color: '#000',
          padding: 3, labelOffset: 8
        },
        grid: { color: '#c0c0c0', tickColor: '#000', tickLength: 4 },
        border: { color: '#000', width: 1 },
        afterFit: s => { s.height = 100; s.paddingLeft = 0; s.paddingRight = 0; }
      },
      y: {
        position: 'left', min: -42.857, max: 42.857,
        afterBuildTicks: s => { s.ticks = tempTicks.map(v => ({ value: v })); },
        ticks: { font: tickFont, color: '#000', padding: 19 },
        grid: { color: '#c0c0c0', drawTicks: false },
        border: { display: false },
        afterFit: s => { s.width = 50; s.paddingTop = 0; s.paddingBottom = 0; }
      },
      y2: {
        position: 'right', min: -7.857, max: 77.857,
        afterBuildTicks: s => { s.ticks = precipTicks.map(v => ({ value: v })); },
        ticks: { font: tickFont, color: '#000', padding: 18 },
        grid: { display: false, drawTicks: false },
        border: { display: false },
        afterFit: s => { s.width = 50; s.paddingTop = 0; s.paddingBottom = 0; }
      },
      yp: {
        position: 'right', min: -65.4, max: 2242.3,
        ticks: { display: false }, grid: { display: false, drawTicks: false }, border: { display: false },
        afterFit: s => { s.width = 0; s.paddingTop = 0; s.paddingBottom = 0; }
      }
    }
  }
});
</script>
</body>
</html>
